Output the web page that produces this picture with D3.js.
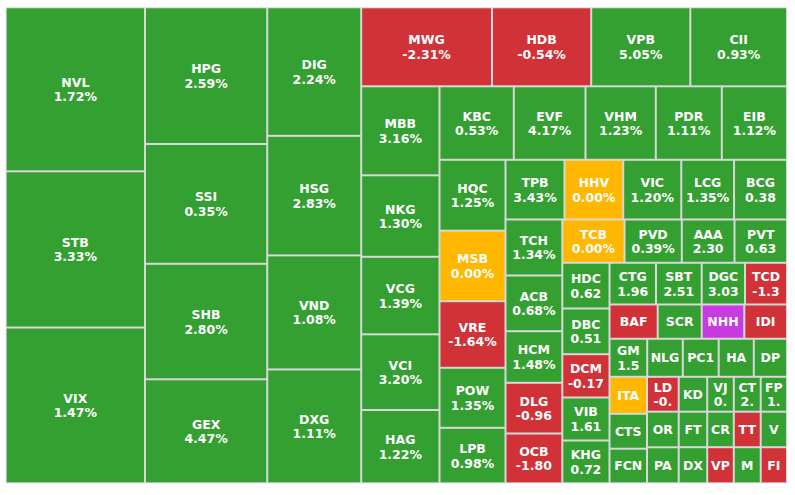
<!DOCTYPE html>
<html>
<head>
<meta charset="utf-8">
<script src="https://cdn.jsdelivr.net/npm/d3@7"></script>
<style>
body { margin: 0; background: #fff; }
svg { display: block; }
</style>
</head>
<body>
<div id="heatmap"></div>
<script>

const green = "#34a032";
const red = "#d03238";
const yellow = "#ffb700";
const purple = "#c83ae2";
const gridGray = "#d8d8d8";

// stock tickers, in layout order
const tickers = [
  "NVL", "STB", "VIX", "HPG", "SSI", "SHB", "GEX", "DIG", "HSG", "VND", "DXG",
  "MWG", "HDB", "VPB", "CII", "MBB", "NKG", "VCG", "VCI", "HAG",
  "KBC", "EVF", "VHM", "PDR", "EIB", "HQC", "MSB", "VRE", "POW", "LPB",
  "TPB", "HHV", "VIC", "LCG", "BCG", "TCH", "ACB", "HCM", "DLG", "OCB",
  "TCB", "PVD", "AAA", "PVT", "HDC", "DBC", "DCM", "VIB", "KHG",
  "CTG", "SBT", "DGC", "TCD", "BAF", "SCR", "NHH", "IDI",
  "GM", "NLG", "PC1", "HA", "DP", "ITA", "CTS", "FCN", "LD", "OR", "PA",
  "KD", "FT", "DX", "VJ", "CR", "VP", "CT", "TT", "M", "FP", "V", "FI"
];

// size of each cell (traded value)
const values = [
  22845, 21760, 21700, 16705, 14640, 14114, 12709, 12079, 11233, 10716, 10700,
  10333, 7837, 7829, 7639, 6969, 6381, 6068, 5927, 5739,
  5461, 5270, 5167, 4851, 4792, 4679, 4653, 4396, 3960, 3663,
  3522, 3504, 3463, 3150, 3160, 3181, 3164, 2931, 2880, 2829,
  2693, 2481, 2282, 2273, 2157, 2157, 2044, 2030, 2020,
  1939, 1906, 1806, 1751, 1653, 1509, 1460, 1465,
  1433, 1353, 1364, 1334, 1262, 1388, 1309, 1298, 1106, 1129, 1141,
  995, 1012, 1029, 928, 944, 960, 939, 955, 971, 918, 934, 949
];

// change text as shown (cut short where the cell is narrow)
const changes = [
  "1.72%", "3.33%", "1.47%", "2.59%", "0.35%", "2.80%", "4.47%", "2.24%", "2.83%", "1.08%", "1.11%",
  "-2.31%", "-0.54%", "5.05%", "0.93%", "3.16%", "1.30%", "1.39%", "3.20%", "1.22%",
  "0.53%", "4.17%", "1.23%", "1.11%", "1.12%", "1.25%", "0.00%", "-1.64%", "1.35%", "0.98%",
  "3.43%", "0.00%", "1.20%", "1.35%", "0.38", "1.34%", "0.68%", "1.48%", "-0.96", "-1.80",
  "0.00%", "0.39%", "2.30", "0.63", "0.62", "0.51", "-0.17", "1.61", "0.72",
  "1.96", "2.51", "3.03", "-1.3", "", "", "", "",
  "1.5", "", "", "", "", "", "", "", "-0.", "", "",
  "", "", "", "0.", "", "", "2.", "", "", "1.", "", ""
];

// u = up, d = down, r = reference, c = ceiling
const status = [
  "u", "u", "u", "u", "u", "u", "u", "u", "u", "u", "u",
  "d", "d", "u", "u", "u", "u", "u", "u", "u",
  "u", "u", "u", "u", "u", "u", "r", "d", "u", "u",
  "u", "r", "u", "u", "u", "u", "u", "u", "d", "d",
  "r", "u", "u", "u", "u", "u", "d", "u", "u",
  "u", "u", "u", "d", "d", "u", "c", "d",
  "u", "u", "u", "u", "u", "r", "u", "u", "d", "u", "u",
  "u", "u", "u", "u", "u", "d", "u", "d", "u", "u", "u", "d"
];

// how many cells go in each strip, and whether the strip is a column or a row
const strips = [3, 4, 4, 4, 5, 5, 5, 5, 5, 4, 5, 4, 4, 5, 3, 3, 3, 3, 3, 3];
const stripDirs = ["col", "col", "col", "row", "col", "row", "col", "row", "col", "row",
                   "col", "row", "row", "row", "col", "col", "col", "col", "col", "col"];

const color = d3.scaleOrdinal()
  .domain(["u", "d", "r", "c"])
  .range([green, red, yellow, purple]);

const width = 795, height = 495;
const mapLeft = 5.7, mapTop = 7.3, mapW = 781.3, mapH = 476;

function stripTile(parent, x0, y0, x1, y1) {
  let rest = parent.value, start = 0;
  strips.forEach(function(n, k) {
    const row = { children: parent.children.slice(start, start + n) };
    row.value = d3.sum(row.children, c => c.value);
    if (stripDirs[k] === "col") {
      const xe = x0 + (x1 - x0) * row.value / rest;
      d3.treemapSlice(row, x0, y0, xe, y1);
      x0 = xe;
    } else {
      const ye = y0 + (y1 - y0) * row.value / rest;
      d3.treemapDice(row, x0, y0, x1, ye);
      y0 = ye;
    }
    rest -= row.value;
    start += n;
  });
}

const root = d3.hierarchy({
  children: tickers.map((t, i) => ({ name: t, value: values[i], change: changes[i], status: status[i] }))
}).sum(d => d.value);

d3.treemap().tile(stripTile).size([mapW, mapH])(root);

const svg = d3.select("#heatmap").append("svg")
  .attr("width", width)
  .attr("height", height);

const g = svg.append("g").attr("transform", `translate(${mapLeft},${mapTop})`);

g.append("rect")
  .attr("width", mapW)
  .attr("height", mapH)
  .attr("fill", gridGray);

const cell = g.selectAll("g.cell")
  .data(root.leaves())
  .enter()
  .append("g")
  .attr("class", "cell")
  .attr("transform", d => `translate(${d.x0},${d.y0})`);

cell.append("clipPath")
  .attr("id", (d, i) => "clip" + i)
  .append("rect")
  .attr("x", 1)
  .attr("y", 1)
  .attr("width", d => d.x1 - d.x0 - 2)
  .attr("height", d => d.y1 - d.y0 - 2);

cell.append("rect")
  .attr("x", 1)
  .attr("y", 1)
  .attr("width", d => d.x1 - d.x0 - 2)
  .attr("height", d => d.y1 - d.y0 - 2)
  .attr("fill", d => color(d.data.status));

const label = cell.append("text")
  .attr("clip-path", (d, i) => `url(#clip${i})`)
  .attr("text-anchor", "middle")
  .attr("font-family", "'DejaVu Sans', Verdana, sans-serif")
  .attr("font-weight", "bold")
  .attr("font-size", "12.5px")
  .attr("fill", "#fff");

label.append("tspan")
  .attr("x", d => (d.x1 - d.x0) / 2)
  .attr("y", d => (d.y1 - d.y0) / 2 + (d.data.change ? -2.5 : 4.5))
  .text(d => d.data.name);

label.filter(d => d.data.change)
  .append("tspan")
  .attr("x", d => (d.x1 - d.x0) / 2)
  .attr("y", d => (d.y1 - d.y0) / 2 + 12)
  .text(d => d.data.change);

</script>
</body>
</html>
